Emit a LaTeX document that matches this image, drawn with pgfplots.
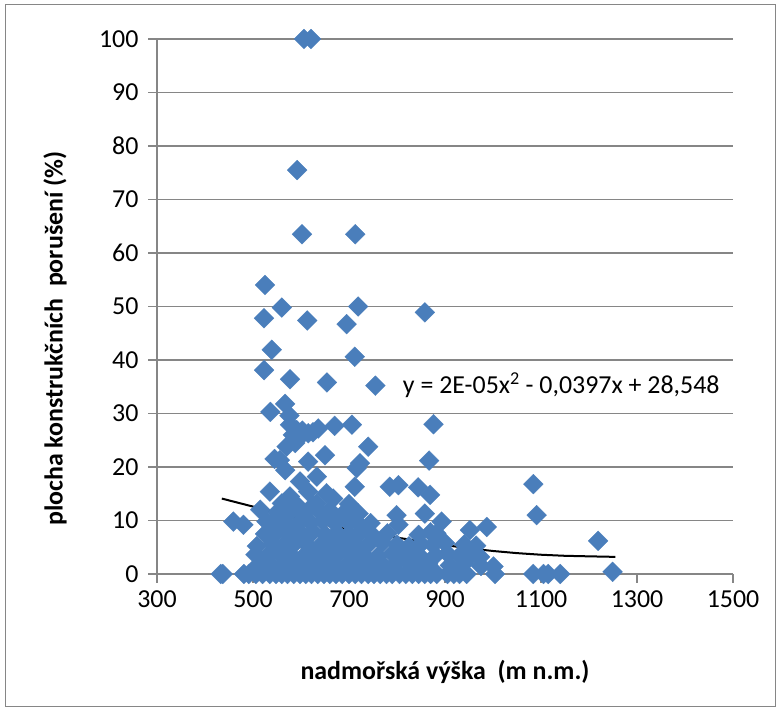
\documentclass[border=0pt]{standalone}
\usepackage{fontspec}
\setmainfont{Carlito}
\usepackage{pgfplots}
\pgfplotsset{compat=1.18}
\definecolor{excelblue}{HTML}{4A7EBB}
\definecolor{gridgray}{HTML}{868686}

\pgfplotstableread{
x y
606 100
621 100
592 75.5
602 63.5
713 63.5
525 54
560 49.8
523 47.8
613 47.4
719 50
695 46.7
858 48.9
539 41.9
712 40.6
523 38.1
577 36.4
654 35.8
755 35.2
536 30.3
567 31.8
576 29.6
577 27.9
591 26.9
615 26.3
636 27.2
670 27.7
706 27.9
876 28.0
583 26.0
588 24.5
596 25.5
603 26.8
625 26.5
570 23.8
740 23.8
556 21.3
545 21.5
650 22.2
615 21.0
567 19.4
723 20.7
716 19.8
867 21.2
598 17.3
633 18.2
712 16.3
785 16.3
803 16.6
844 16.2
869 14.8
1084 16.8
1091 11.0
535 15.4
577 14.5
615 15.4
653 15.1
667 14.1
515 12.0
633 13.2
688 11.3
709 11.6
799 11.0
858 11.3
459 9.8
480 9.2
528 9.8
803 9.2
893 9.8
952 8.2
987 8.8
882 7.6
1219 6.2
1249 0.4
433 0
437 0
481 0
491 0
1001 1.4
1004 0
1084 0
1105 0
1115 0
1140 0
973 3.2
962 3.9
506 0
520 0
535 0
548 0
560 0
572 0
585 0
598 0
610 0
622 0
635 0
648 0
660 0
673 0
686 0
700 0
713 0
726 0
740 0
752 0
765 0
778 0
790 0
805 0
818 0
832 0
845 0
858 0
870 0
883 0
905 0
918 0
930 0
945 0
512 1.8
540 1.5
565 2.0
590 1.6
617 1.9
642 1.5
668 2.0
695 1.7
720 1.5
748 2.0
772 1.6
795 1.8
830 1.5
865 1.9
910 1.6
940 2.0
975 1.5
505 3.6
530 3.4
555 3.8
580 3.5
605 3.3
630 3.7
655 3.5
680 3.9
705 3.4
730 3.6
760 3.3
790 3.8
815 3.4
845 3.6
880 3.5
905 3.8
930 3.4
955 3.6
508 5.2
540 5.6
563 5.3
588 5.8
612 5.5
638 5.2
662 5.7
688 5.4
712 5.6
738 5.3
770 5.8
800 5.5
825 5.2
850 5.6
875 5.4
900 5.8
940 5.5
965 5.3
525 7.5
550 7.8
575 7.3
600 7.6
625 7.9
650 7.4
675 7.7
700 7.5
725 7.8
750 7.2
780 7.6
845 7.3
870 7.8
540 9.5
565 9.8
592 9.3
620 9.6
645 9.9
672 9.4
698 9.7
722 9.2
745 9.5
550 11.5
580 11.8
605 11.4
640 11.6
660 11.9
720 11.3
560 13.2
590 13.0
625 12.8
700 13.1
}\scatterdata

\begin{document}
\begin{tikzpicture}[x=1bp,y=1bp]
\useasboundingbox (0,0) rectangle (780,712);
\draw[gridgray, line width=1bp] (5,5) rectangle (775,707);
\begin{axis}[
  at={(157bp,138bp)}, anchor=south west,
  scale only axis, width=576bp, height=535bp,
  xmin=300, xmax=1500, ymin=0, ymax=100,
  xtick={300,500,...,1500}, ytick={0,10,...,100},
  axis x line*=bottom, axis y line*=left,
  axis line style={gridgray, line width=1.2bp},
  ymajorgrids, grid style={gridgray, line width=1.2bp},
  tick style={gridgray, line width=1.2bp},
  tick align=outside, major tick length=9bp,
  ticklabel style={font=\fontsize{26}{30}\selectfont},
  /pgf/number format/assume math mode=true,
  /pgf/number format/1000 sep={},
  xticklabel style={yshift=-4bp},
  yticklabel style={xshift=-6bp},
  xlabel={nadmořská výška\ \ (m n.m.)},
  ylabel={plocha konstrukčních\ \ porušení (\%)},
  label style={font=\fontsize{26}{30}\selectfont\bfseries},
  xlabel style={at={(axis description cs:0.5,-0.183)}, anchor=center},
  ylabel style={at={(axis description cs:-0.177,0.44)}, anchor=center, rotate=0},
  clip=false,
]
\addplot[only marks, mark=square*, mark size=7bp,
  mark options={rotate=45, fill=excelblue, draw=excelblue, line width=0.3bp}]
  table[x=x, y=y] {\scatterdata};
\addplot[black, line width=2bp, no marks] coordinates {
(435,14.1) (500,12.6) (550,11.4) (600,10.3) (650,9.2) (700,8.3) (750,7.5)
(800,6.8) (850,6.1) (900,5.4) (950,4.8) (1000,4.3) (1050,3.9) (1100,3.6)
(1150,3.4) (1200,3.3) (1255,3.2)};
\node[anchor=west, font=\fontsize{26}{30}\selectfont, inner sep=0pt]
  at (axis cs:812,35.3) {y = 2E-05x\textsuperscript{2} - 0,0397x + 28,548};
\end{axis}
\end{tikzpicture}
\end{document}
